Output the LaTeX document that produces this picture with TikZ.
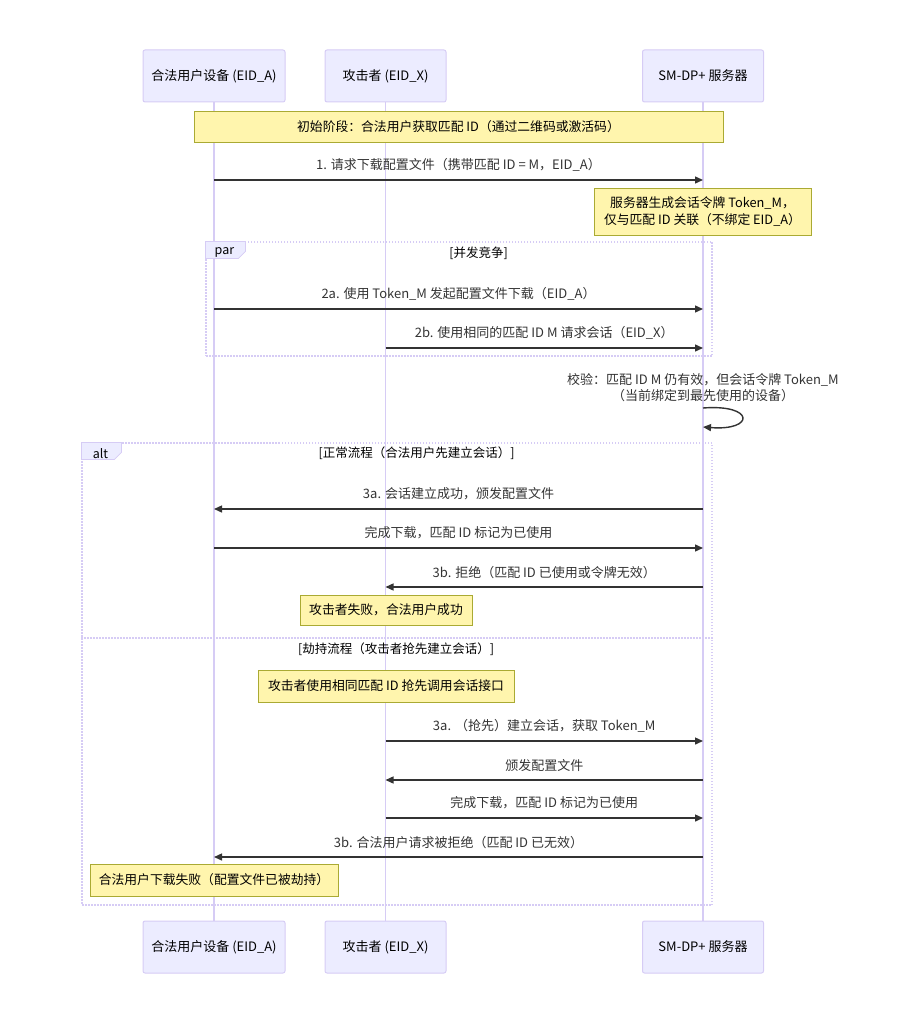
\documentclass[tikz,border=0pt]{standalone}
\usepackage{fontspec}
\setmainfont{Noto Sans CJK SC}
\usetikzlibrary{arrows.meta}
\definecolor{ActorFill}{HTML}{ECECFF}
\definecolor{ActorLine}{HTML}{D6CCF5}
\definecolor{NoteFill}{HTML}{FFF5AD}
\definecolor{NoteLine}{HTML}{AAAA33}
\definecolor{MsgLine}{HTML}{333333}

\tikzset{
Actor/.style={draw=ActorLine, fill=ActorFill, rectangle, rounded corners=2pt,
        minimum height=52pt, inner sep=0pt, align=center, line width=1.0pt,
        font=\fontsize{13}{15}\selectfont, text=black},
LifeLine/.style={draw=ActorLine, line width=1.3pt},
Note/.style={draw=NoteLine, fill=NoteFill, rectangle, inner sep=0pt,
        align=center, line width=0.8pt, font=\fontsize{12.8}{17}\selectfont, text=black},
Msg/.style={draw=MsgLine, line width=1.4pt, -{Triangle[length=8pt,width=7pt]}},
MsgText/.style={font=\fontsize{13}{16}\selectfont, text=MsgLine, inner sep=0pt},
LoopBox/.style={draw=ActorLine, line width=1.1pt, dash pattern=on 1.5pt off 1.5pt, rectangle, inner sep=0pt},
LoopTab/.style={draw=ActorLine, fill=ActorFill, line width=0.8pt},
LoopText/.style={font=\fontsize{12.5}{15}\selectfont, text=black, inner sep=0pt},
}

\begin{document}
\begin{tikzpicture}[x=1pt, y=-1pt]
	\useasboundingbox (0,0) rectangle (923,1024);
	% participants, top and bottom
	\foreach \n/\x/\w/\t in {A/214/142/{合法用户设备 (EID\_A)}, X/385.5/121/{攻击者 (EID\_X)}, S/703/121/{SM-DP+ 服务器}} {
		\node[Actor, minimum width=\w pt] (\n-top) at (\x,76) {\t};
		\node[Actor, minimum width=\w pt] (\n-bot) at (\x,947) {\t};
	}
	\foreach \n in {A,X,S}
		\draw[LifeLine] (\n-top) -- (\n-bot);

	% frames
	\node[LoopBox, minimum width=506pt, minimum height=114pt] (par) at (459,299) {};
	\node[LoopBox, minimum width=630pt, minimum height=462pt] (alt) at (397,674) {};
	\foreach \f/\l in {par/par, alt/alt} {
		\filldraw[LoopTab] (\f.north west) -- ++(40,0) -- ++(0,10) -- ++(-7,7) -- ++(-33,0) -- cycle;
		\node[LoopText] (\f-tab) at ([xshift=19pt, yshift=-11pt]\f.north west) {\l};
	}
	\node[LoopText] (par-title) at (478.5,253) {[并发竞争]};
	\node[LoopText] (alt-title) at (416.5,453) {[正常流程（合法用户先建立会话）]};
	\coordinate (sep-l) at (alt.west |- 0,638);
	\coordinate (sep-r) at (alt.east |- 0,638);
	\draw[LoopBox] (sep-l) -- (sep-r);
	\node[LoopText] (alt-else) at (396,649) {[劫持流程（攻击者抢先建立会话）]};

	% notes
	\node[Note, minimum width=529pt, minimum height=31pt] (n1) at (458.5,126.5) {初始阶段：合法用户获取匹配 ID（通过二维码或激活码）};
	\node[Note, minimum width=217pt, minimum height=47pt] (n2) at (702.5,211.5) {服务器生成会话令牌 Token\_M，\\仅与匹配 ID 关联（不绑定 EID\_A）};
	\node[Note, minimum width=172pt, minimum height=30pt] (n3) at (386,610) {攻击者失败，合法用户成功};
	\node[Note, minimum width=256pt, minimum height=32pt] (n4) at (386,686) {攻击者使用相同匹配 ID 抢先调用会话接口};
	\node[Note, minimum width=248pt, minimum height=32pt] (n5) at (214,880) {合法用户下载失败（配置文件已被劫持）};

	% messages
	\foreach \i/\y/\f/\t/\txt in {
		1/180/A/S/{1. 请求下载配置文件（携带匹配 ID = M，EID\_A）},
		2/309/A/S/{2a. 使用 Token\_M 发起配置文件下载（EID\_A）},
		3/348/X/S/{2b. 使用相同的匹配 ID M 请求会话（EID\_X）},
		4/509/S/A/{3a. 会话建立成功，颁发配置文件},
		5/548/A/S/{完成下载，匹配 ID 标记为已使用},
		6/587/S/X/{3b. 拒绝（匹配 ID 已使用或令牌无效）},
		7/741/X/S/{3a. （抢先）建立会话，获取 Token\_M},
		8/780/S/X/{颁发配置文件},
		9/818/X/S/{完成下载，匹配 ID 标记为已使用},
		10/857/S/A/{3b. 合法用户请求被拒绝（匹配 ID 已无效）}} {
		\coordinate (m\i-s) at (\f-top |- 0,\y);
		\coordinate (m\i-e) at (\t-top |- 0,\y);
		\draw[Msg] (m\i-s) -- node[MsgText, midway, above=8pt] (m\i-txt) {\txt} (m\i-e);
	}

	% self check on server
	\node[MsgText, align=center] (chk) at (703,388) {校验：匹配 ID M 仍有效，但会话令牌 Token\_M\\（当前绑定到最先使用的设备）};
	\coordinate (chk-s) at (S-top |- 0,408);
	\coordinate (chk-e) at (S-top |- 0,427);
	\draw[Msg] (chk-s) .. controls (755,404) and (755,431) .. (chk-e);
\end{tikzpicture}
\end{document}
